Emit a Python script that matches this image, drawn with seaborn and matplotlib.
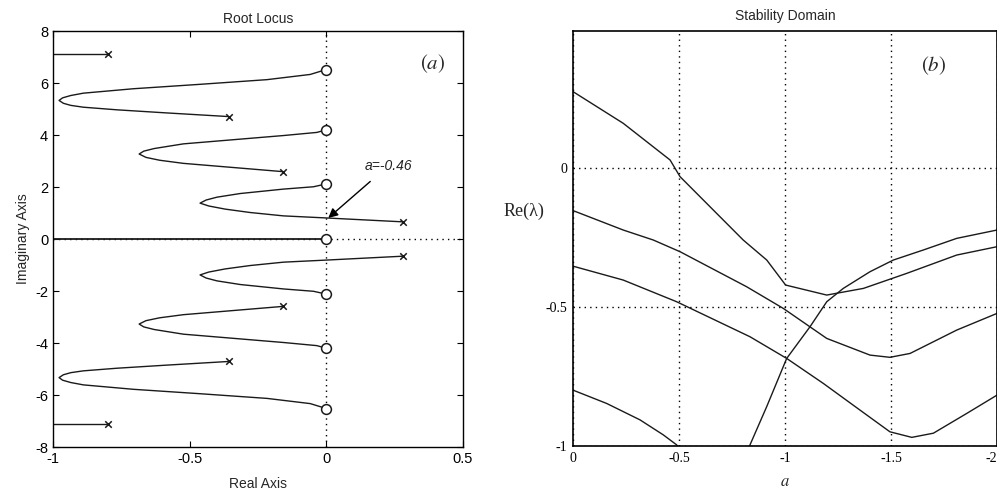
import numpy as np
import pandas as pd
import matplotlib
matplotlib.use("Agg")
import matplotlib.pyplot as plt
import seaborn as sns

# ---------------- data: root locus (upper half; lower half is conjugate) ----------------
pole_re = [-0.80, -0.358, -0.157, 0.281]
pole_im = [7.10, 4.71, 2.59, 0.66]
zero_re = [0.0, 0.0, 0.0, 0.0]
zero_im = [0.0, 2.12, 4.20, 6.52]

b1_x = [-1.05, -0.80]
b1_y = [7.10, 7.10]

b2_x = [-0.358, -0.584, -0.767, -0.889, -0.935, -0.962, -0.978, -0.965, -0.935, -0.889, -0.706, -0.462, -0.217, -0.059, 0.0]
b2_y = [4.71, 4.85, 4.97, 5.07, 5.14, 5.22, 5.33, 5.43, 5.52, 5.61, 5.78, 5.95, 6.13, 6.33, 6.52]

b3_x = [-0.157, -0.340, -0.523, -0.610, -0.660, -0.685, -0.668, -0.630, -0.523, -0.340, -0.157, -0.035, 0.0]
b3_y = [2.59, 2.75, 2.91, 3.03, 3.14, 3.27, 3.38, 3.48, 3.66, 3.82, 3.98, 4.10, 4.20]

b4_x = [0.281, 0.0, -0.157, -0.279, -0.370, -0.430, -0.462, -0.440, -0.400, -0.315, -0.157, -0.047, 0.0]
b4_y = [0.66, 0.81, 0.89, 1.02, 1.15, 1.27, 1.38, 1.50, 1.61, 1.75, 1.92, 2.01, 2.12]

real_x = [-1.05, 0.0]
real_y = [0.0, 0.0]

# ---------------- data: stability domain ----------------
cA_a = [0.0, -0.237, -0.458, -0.505, -0.803, -0.914, -1.003, -1.197, -1.37, -1.574, -1.81, -2.0]
cA_r = [0.275, 0.161, 0.029, -0.031, -0.259, -0.331, -0.421, -0.457, -0.433, -0.379, -0.313, -0.283]

cB_a = [0.0, -0.237, -0.379, -0.505, -0.819, -0.992, -1.197, -1.401, -1.495, -1.590, -1.81, -2.0]
cB_r = [-0.153, -0.223, -0.259, -0.301, -0.427, -0.505, -0.613, -0.673, -0.681, -0.667, -0.583, -0.523]

cC_a = [0.0, -0.237, -0.489, -0.835, -1.008, -1.181, -1.354, -1.495, -1.598, -1.70, -1.857, -2.0]
cC_r = [-0.353, -0.403, -0.481, -0.607, -0.685, -0.775, -0.871, -0.949, -0.969, -0.954, -0.883, -0.817]

cD_a = [0.0, -0.159, -0.316, -0.426, -0.489, -0.51]
cD_r = [-0.799, -0.847, -0.906, -0.960, -0.996, -1.02]

cE_a = [-0.825, -0.835, -0.914, -1.008, -1.118, -1.197, -1.275, -1.401, -1.511, -1.652, -1.81, -2.0]
cE_r = [-1.03, -0.996, -0.858, -0.685, -0.571, -0.481, -0.433, -0.373, -0.331, -0.295, -0.253, -0.223]

left_xticks = [-1, -0.5, 0, 0.5]
left_xlabels = ["-1", "-0.5", "0", "0.5"]
left_yticks = [-8, -6, -4, -2, 0, 2, 4, 6, 8]
left_ylabels = ["-8", "-6", "-4", "-2", "0", "2", "4", "6", "8"]
right_xticks = [0, -0.5, -1, -1.5, -2]
right_xlabels = ["0", "-0.5", "-1", "-1.5", "-2"]
right_yticks = [-1, -0.5, 0]
right_ylabels = ["-1", "-0.5", "0"]

# ---------------- figure ----------------
sns.set_style("ticks")
plt.rcParams["font.family"] = ["Liberation Sans", "DejaVu Sans"]
plt.rcParams["mathtext.fontset"] = "stix"
plt.rcParams["axes.unicode_minus"] = False

fig = plt.figure(figsize=(9.97, 4.94), dpi=100)
axL = fig.add_axes([0.0532, 0.0951, 0.4112, 0.8421])
axR = fig.add_axes([0.5747, 0.0972, 0.4253, 0.8400])

LC = "#1a1a1a"
LW = 1.0

# ---- left panel ----
axL.axvline(0, color="k", ls=(0, (1, 3)), lw=1.0, zorder=1)
axL.axhline(0, color="k", ls=(0, (1, 3)), lw=1.0, zorder=1)

for bx, by in [(b1_x, b1_y), (b2_x, b2_y), (b3_x, b3_y), (b4_x, b4_y)]:
    for sgn in (1, -1):
        sns.lineplot(x=bx, y=[sgn * v for v in by], sort=False, estimator=None,
                     color=LC, lw=LW, ax=axL)
sns.lineplot(x=real_x, y=real_y, sort=False, estimator=None, color=LC, lw=1.3, ax=axL)

px = pole_re + pole_re
py = pole_im + [-v for v in pole_im]
axL.scatter(px, py, marker="x", s=22, color=LC, linewidths=1.1, zorder=5)
zx = zero_re + zero_re[1:]
zy = zero_im + [-v for v in zero_im[1:]]
axL.scatter(zx, zy, marker="o", s=50, facecolors="white", edgecolors=LC, linewidths=1.1, zorder=5)

axL.set_xlim(-1, 0.5)
axL.set_ylim(-8, 8)
axL.set_xticks(left_xticks)
axL.set_xticklabels(left_xlabels)
axL.set_yticks(left_yticks)
axL.set_yticklabels(left_ylabels)
axL.tick_params(direction="in", top=True, right=True, length=4, labelsize=10.5, colors="k")
for s in axL.spines.values():
    s.set_color("k")
    s.set_linewidth(1.0)
axL.set_title("Root Locus", fontsize=10, pad=6)
axL.set_xlabel("Real Axis", fontsize=10, labelpad=8)
axL.set_ylabel("Imaginary Axis", fontsize=10, labelpad=4)

axL.annotate("a=-0.46", xy=(0.007, 0.81), xytext=(0.227, 2.82),
             fontsize=10, style="italic", ha="center", va="center", color="#222222",
             arrowprops=dict(arrowstyle="-|>", color="k", lw=1.0,
                             mutation_scale=14, shrinkA=6, shrinkB=0))
axL.text(0.388, 6.75, r"$(a)$", fontsize=15, ha="center", va="center")

# ---- right panel ----
for a, r in [(cA_a, cA_r), (cB_a, cB_r), (cC_a, cC_r), (cD_a, cD_r), (cE_a, cE_r)]:
    sns.lineplot(x=a, y=r, sort=False, estimator=None, color=LC, lw=LW, ax=axR)

axR.set_xlim(0, -2)
axR.set_ylim(-1, 0.493)
axR.set_xticks(right_xticks)
axR.set_xticklabels(right_xlabels)
axR.set_yticks(right_yticks)
axR.set_yticklabels(right_ylabels)
axR.grid(True, color="k", ls=(0, (1, 3)), lw=1.0)
axR.tick_params(direction="in", length=0, labelsize=10, colors="k", pad=4)
for lab in axR.get_xticklabels() + axR.get_yticklabels():
    lab.set_fontfamily(["Liberation Serif", "DejaVu Serif"])
axR.get_xticklabels()[-1].set_horizontalalignment("right")
for s in axR.spines.values():
    s.set_color("k")
    s.set_linewidth(1.2)
axR.set_title("Stability Domain", fontsize=10, pad=8)
axR.set_xlabel(r"$a$", fontsize=12, labelpad=7)
axR.set_ylabel("Re(λ)", fontsize=13, rotation=0, va="center",
               family=["Liberation Serif", "DejaVu Serif"])
axR.yaxis.set_label_coords(-0.115, 0.565)
axR.text(-1.70, 0.37, r"$(b)$", fontsize=15, ha="center", va="center")

fig.savefig("out.png", dpi=100)
